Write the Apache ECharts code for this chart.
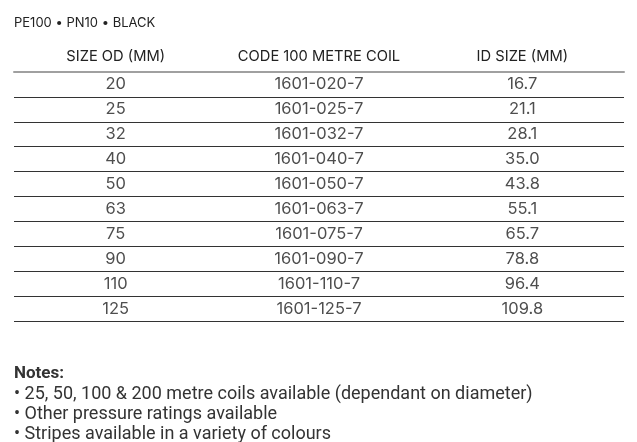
<!DOCTYPE html>
<html><head><meta charset="utf-8">
<script src="https://cdn.jsdelivr.net/npm/echarts@6/dist/echarts.min.js"></script>
<style>html,body{margin:0;padding:0;background:#fff}#c{width:637px;height:442px}</style>
</head><body><div id="c"></div>
<script>
const titleText = 'PE100 • PN10 • BLACK';
const columns = ['SIZE OD (MM)', 'CODE 100 METRE COIL', 'ID SIZE (MM)'];
const sizeOD = ['20', '25', '32', '40', '50', '63', '75', '90', '110', '125'];
const codes = ['1601-020-7', '1601-025-7', '1601-032-7', '1601-040-7', '1601-050-7', '1601-063-7', '1601-075-7', '1601-090-7', '1601-110-7', '1601-125-7'];
const idSize = ['16.7', '21.1', '28.1', '35.0', '43.8', '55.1', '65.7', '78.8', '96.4', '109.8'];
const notesTitle = 'Notes:';
const notes = [
  '• 25, 50, 100 & 200 metre coils available (dependant on diameter)',
  '• Other pressure ratings available',
  '• Stripes available in a variety of colours'
];

const cells = [];
[sizeOD, codes, idSize].forEach((col, ci) => {
  col.forEach((v, ri) => cells.push({ value: [ci, ri], label: v }));
});
const splitColors = sizeOD.map(() => '#333');
splitColors.unshift('rgba(0,0,0,0)');

const chart = echarts.init(document.getElementById('c'));
chart.setOption({
  animation: false,
  title: {
    text: titleText, left: 9, top: 12,
    textStyle: { fontFamily: 'Inter', fontSize: 13, fontWeight: 'normal', color: '#222' }
  },
  grid: { left: 14, right: 13, top: 72, height: 249, containLabel: false },
  xAxis: {
    type: 'category', position: 'top', data: columns,
    axisLine: { show: true, lineStyle: { color: '#a0a0a0', width: 2 } },
    axisTick: { show: false },
    axisLabel: { interval: 0, margin: 8, fontFamily: 'Inter', fontSize: 14.7, color: '#222' },
    splitLine: { show: false }
  },
  yAxis: {
    type: 'category', inverse: true, data: sizeOD,
    axisLine: { show: false }, axisTick: { show: false }, axisLabel: { show: false },
    splitLine: { show: true, lineStyle: { color: splitColors, width: 1 } }
  },
  series: [{
    type: 'scatter', symbolSize: 0, silent: true,
    data: cells,
    label: {
      show: true, position: 'inside',
      formatter: p => p.data.label,
      fontFamily: 'Inter', fontSize: 16.5, color: '#222'
    }
  }],
  graphic: [
    { type: 'text', left: 14, top: 365, style: { text: notesTitle, font: 'bold 17px Roboto', fill: '#333' } },
    ...notes.map((t, i) => ({
      type: 'text', left: 14, top: 385 + i * 20,
      style: { text: t, font: '18px Roboto', fill: '#333' }
    }))
  ]
});
</script></body></html>
